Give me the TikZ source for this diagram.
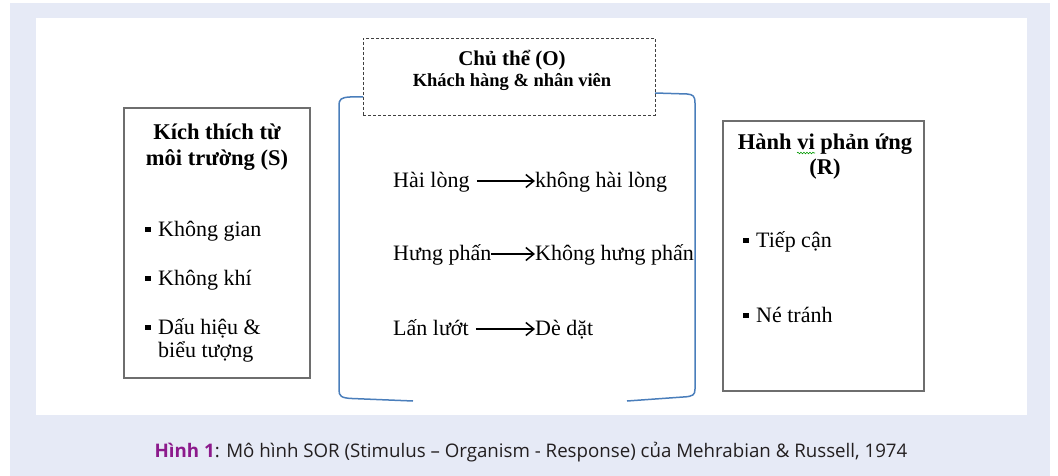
\documentclass[tikz,border=0pt]{standalone}
\usepackage{fontspec}
\setmainfont{Liberation Serif}
\newfontfamily\capfont{Open Sans}
\usepackage{xcolor}
\usetikzlibrary{arrows.meta,positioning,decorations.pathmorphing}
\definecolor{panelbg}{RGB}{230,234,246}
\definecolor{brkblue}{RGB}{74,126,187}
\definecolor{boxgray}{RGB}{110,110,110}
\definecolor{figpurple}{RGB}{140,26,140}
\definecolor{captext}{RGB}{35,31,32}
\newcommand{\sqbul}{\makebox[13pt][l]{\rule[4pt]{5.5pt}{5.5pt}}}
\tikzset{
 factorbox/.style={
 rectangle,
 draw=boxgray,
 line width=1.2pt,
 inner sep=0pt
 },
 orgbox/.style={
 rectangle,
 draw=black!75,
 dash pattern=on 3pt off 2pt,
 line width=0.9pt,
 inner sep=0pt
 },
 boxtitle/.style={
 align=center,
 inner sep=0pt,
 font=\bfseries\fontsize{22.5}{25}\selectfont
 },
 itemtext/.style={
 anchor=base west,
 align=left,
 inner sep=0pt,
 font=\fontsize{22}{23}\selectfont
 },
 statetext/.style={
 anchor=base west,
 inner sep=0pt,
 text height=17pt,
 text depth=5pt,
 font=\fontsize{22}{24}\selectfont
 },
 changearrow/.style={-{Straight Barb[length=8pt,width=13pt]}, line width=1.5pt},
 bracket/.style={draw=brkblue, line width=1.5pt, line join=round}
}

\begin{document}
\begin{tikzpicture}[x=1pt,y=-1pt]
 \useasboundingbox (0,0) rectangle (1058,476);
 \fill[white] (0,0) rectangle (1058,476);
 \fill[panelbg] (10,3) rectangle (1050,476);
 \fill[white] (36,18) rectangle (1027,415);

 \node[factorbox, minimum width=186pt, minimum height=270pt] (stimbox) at (217,243) {};
 \node[factorbox, minimum width=201pt, minimum height=270pt] (respbox) at (823.5,256) {};
 \node[orgbox, minimum width=292pt, minimum height=77pt] (orgbox) at (509,76.5) {};

 \node[boxtitle, anchor=base] (stimtitle) at (217,165) {Kích thích từ\\môi trường (S)};
 \node[itemtext] (stimspace) at (145,236) {\sqbul Không gian};
 \node[itemtext] (stimair) at (145,285) {\sqbul Không khí};
 \node[itemtext] (stimsign) at (145,357) {\sqbul Dấu hiệu \&\\\hspace*{13pt}biểu tượng};

 \node[boxtitle, anchor=base] (resptitle) at (825,175) {Hành vi phản ứng\\(R)};
 \draw[decorate, decoration={snake, segment length=3pt, amplitude=0.8pt}, draw=green!60!black, line width=0.6pt] (797,153) -- (815,153);
 \node[itemtext] (respapproach) at (743,247) {\sqbul Tiếp cận};
 \node[itemtext] (respavoid) at (743,322) {\sqbul Né tránh};

 \node[inner sep=0pt, anchor=base, font=\bfseries\fontsize{21}{24}\selectfont] (orgtitle) at (512,66) {Chủ thể (O)};
 \node[inner sep=0pt, anchor=base, font=\bfseries\fontsize{18.5}{22}\selectfont] (orgsub) at (512,87) {Khách hàng \& nhân viên};

 \node[statetext] (satisfied) at (393,187) {Hài lòng};
 \node[statetext] (unsatisfied) at (535,187) {không hài lòng};
 \node[statetext] (aroused) at (393,260) {Hưng phấn};
 \node[statetext] (unaroused) at (535,260) {Không hưng phấn};
 \node[statetext] (dominant) at (393,335) {Lấn lướt};
 \node[statetext] (submissive) at (535,335) {Dè dặt};

 \draw[changearrow, shorten <=7pt] (satisfied) -- (unsatisfied);
 \draw[changearrow] (aroused) -- (unaroused);
 \draw[changearrow, shorten <=7pt] (dominant) -- (submissive);

 \draw[bracket] (363,97) -- (350,97) .. controls (341,97.5) and (339,99) .. (339,106) -- (339,390) .. controls (339,396) and (341,398) .. (352,398.5) -- (413,401);
 \draw[bracket] (655,93) -- (687,94) .. controls (693,94.5) and (695,96) .. (695,103) -- (695,389) .. controls (695,395) and (693,396.5) .. (683,397) -- (627,401);

 \node[anchor=base, inner sep=0pt, text=captext, font=\capfont\fontsize{18.7}{22}\selectfont] (caption) at (531,457) {\textcolor{figpurple}{\bfseries Hình 1}: Mô hình SOR (Stimulus – Organism - Response) của Mehrabian \& Russell, 1974};
\end{tikzpicture}
\end{document}
